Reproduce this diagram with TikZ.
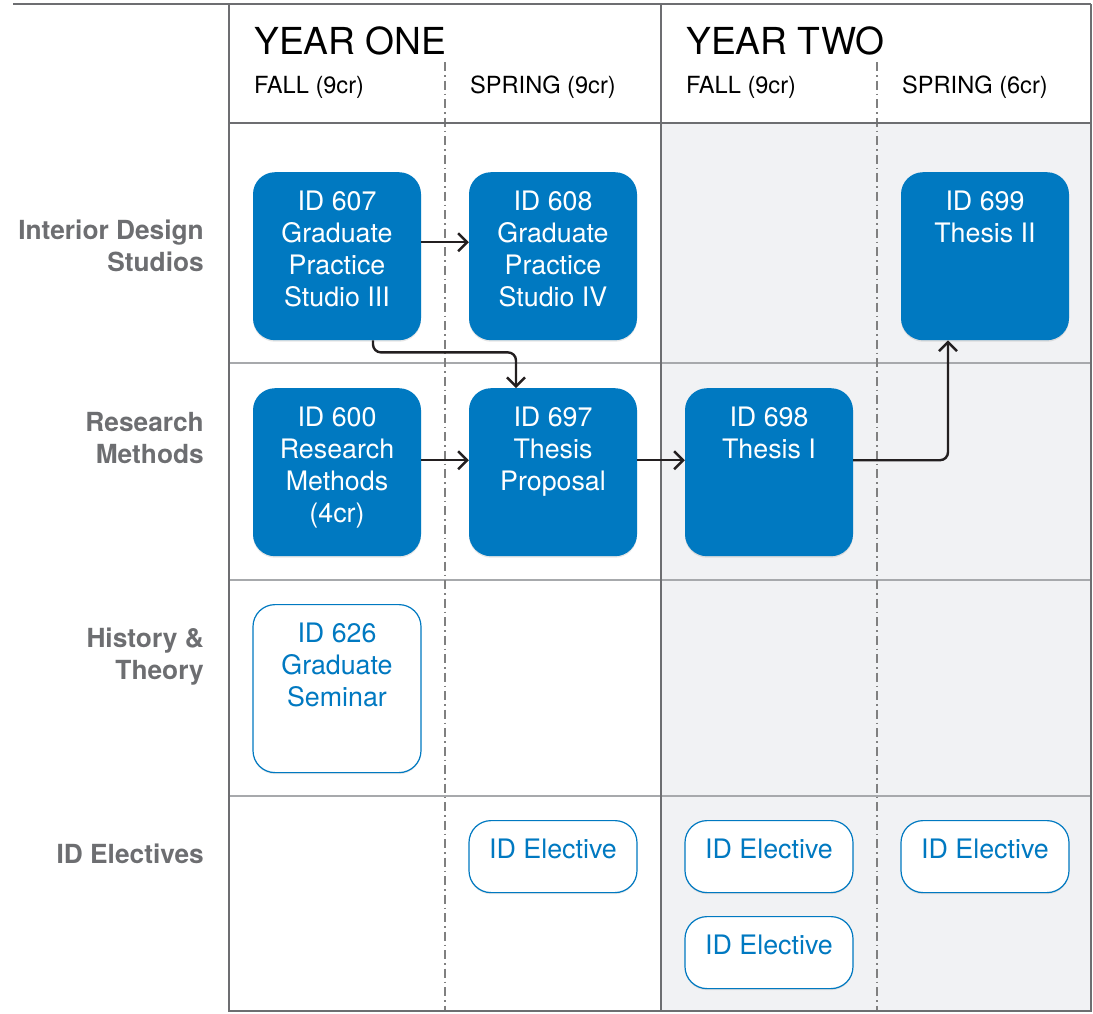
\documentclass[tikz,border=0pt]{standalone}
\usepackage{fontspec}
\setmainfont{TeX Gyre Heros}
\usetikzlibrary{arrows.meta,shadows}
\definecolor{idblue}{HTML}{0079C1}
\definecolor{framegray}{HTML}{6D6E71}
\definecolor{rowgray}{HTML}{A7A9AC}
\definecolor{labelgray}{HTML}{6D6E71}
\definecolor{yeargray}{HTML}{F1F2F4}
\definecolor{arrowblack}{HTML}{231F20}
\newcommand{\crs}[2]{\parbox[t][#1pt][t]{164pt}{\centering\rule{0pt}{38pt}#2}}

\begin{document}
\begin{tikzpicture}[x=1pt,y=-1pt]
            \tikzstyle{cadre}=[draw=framegray,line width=2pt]
            \tikzstyle{ligne}=[draw=rowgray,line width=1.5pt]
            \tikzstyle{semestre}=[draw=gray,line width=1.2pt,dash pattern=on 9pt off 4pt on 1.5pt off 4pt]
            \tikzstyle{cours}=[rectangle,rounded corners=22pt,fill=idblue,text=white,inner sep=0pt,minimum width=168pt,anchor=north,font=\fontsize{26.8}{32}\selectfont,drop shadow={opacity=0.2,shadow xshift=0pt,shadow yshift=-1.5pt}]
            \tikzstyle{option}=[cours,fill=white,draw=idblue,line width=1.2pt,text=idblue]
            \tikzstyle{fleche}=[draw=arrowblack,line width=2.4pt,rounded corners=8pt,-{Straight Barb[length=9pt,width=18pt]}]
            \tikzstyle{annee}=[anchor=base west,inner sep=0pt,font=\fontsize{37.2}{40}\selectfont]
            \tikzstyle{session}=[anchor=base west,inner sep=0pt,font=\fontsize{23.6}{26}\selectfont]
            \tikzstyle{theme}=[anchor=north east,align=right,inner sep=0pt,text=labelgray,font=\bfseries\fontsize{26.3}{32}\selectfont]
            \useasboundingbox (0,0) rectangle (1093,1013);
            % grille
            \fill[yeargray] (661,123) rectangle (1091,1011);
            \draw[ligne] (229,363) -- (1091,363);
            \draw[ligne] (229,580) -- (1091,580);
            \draw[ligne] (229,796) -- (1091,796);
            \draw[semestre] (445,62) -- (445,1011);
            \draw[semestre] (877,62) -- (877,1011);
            \draw[cadre] (13,4) -- (1091,4);
            \draw[cadre] (229,4) -- (229,1011) -- (1091,1011) -- (1091,4);
            \draw[cadre] (229,123) -- (1091,123);
            \draw[cadre] (661,4) -- (661,1011);
            % en-tetes
            \node[annee] (an1) at (254,54) {YEAR ONE};
            \node[annee] (an2) at (686,54) {YEAR TWO};
            \node[session] (s1) at (254,93) {FALL (9cr)};
            \node[session] (s2) at (470,93) {SPRING (9cr)};
            \node[session] (s3) at (686,93) {FALL (9cr)};
            \node[session] (s4) at (902,93) {SPRING (6cr)};
            \node[theme] (t1) at (204,220) {Interior Design\\Studios};
            \node[theme] (t2) at (204,412) {Research\\Methods};
            \node[theme] (t3) at (204,628) {History \&\\Theory};
            \node[theme] (t4) at (204,844) {ID Electives};
            % cours
            \node[cours] (id607) at (337,172) {\crs{168}{ID 607\\Graduate\\Practice\\Studio III}};
            \node[cours] (id608) at (553,172) {\crs{168}{ID 608\\Graduate\\Practice\\Studio IV}};
            \node[cours] (id699) at (985,172) {\crs{168}{ID 699\\Thesis II}};
            \node[cours] (id600) at (337,388) {\crs{168}{ID 600\\Research\\Methods\\(4cr)}};
            \node[cours] (id697) at (553,388) {\crs{168}{ID 697\\Thesis\\Proposal}};
            \node[cours] (id698) at (769,388) {\crs{168}{ID 698\\Thesis I}};
            \node[option] (id626) at (337,604) {\crs{168}{ID 626\\Graduate\\Seminar}};
            \node[option] (el1) at (553,820) {\crs{72}{ID Elective}};
            \node[option] (el2) at (769,820) {\crs{72}{ID Elective}};
            \node[option] (el3) at (769,916) {\crs{72}{ID Elective}};
            \node[option] (el4) at (985,820) {\crs{72}{ID Elective}};
            % prerequis
            \draw[fleche] ([yshift=14]id607.east) -- ([yshift=14]id608.west);
            \draw[fleche] ([xshift=36]id607.south) -- ++(0,12) -| ([xshift=-37]id697.north);
            \draw[fleche] ([yshift=12]id600.east) -- ([yshift=12]id697.west);
            \draw[fleche] ([yshift=12]id697.east) -- ([yshift=12]id698.west);
            \draw[fleche] ([yshift=12]id698.east) -| ([xshift=-37]id699.south);
\end{tikzpicture}
\end{document}
